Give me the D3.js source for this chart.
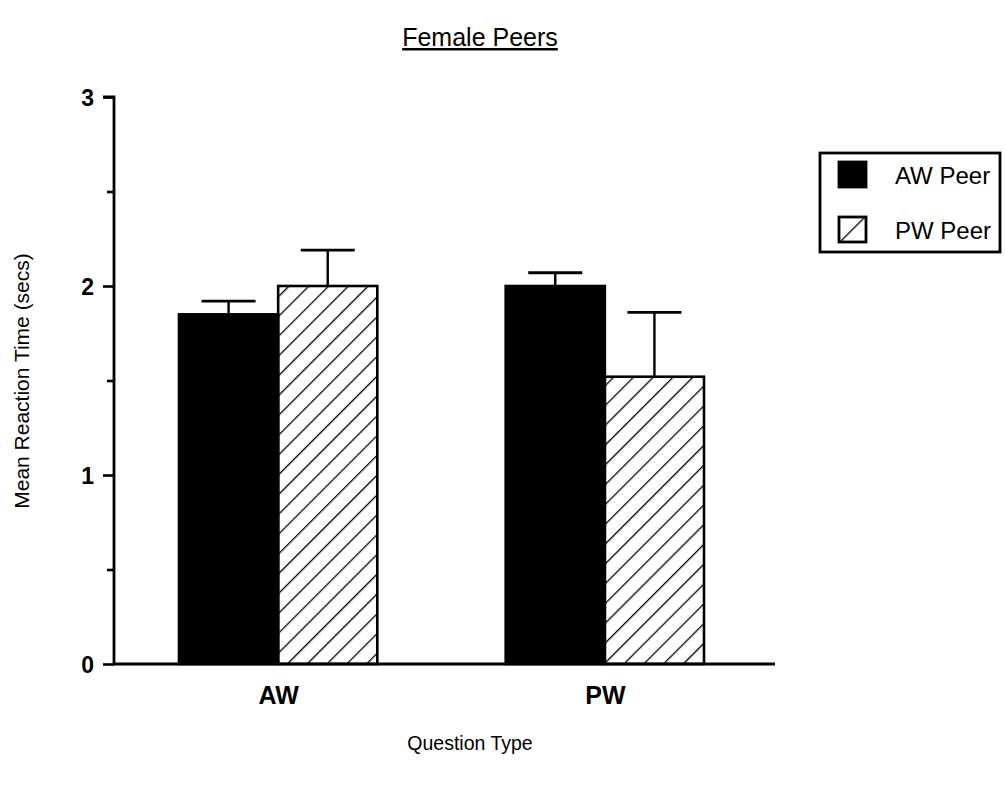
<!DOCTYPE html>
<html><head><meta charset="utf-8">
<script src="https://cdn.jsdelivr.net/npm/d3@7"></script>
<style>body{margin:0;background:#fff}svg{display:block}text{font-family:"Liberation Sans",Arial,sans-serif;fill:#000}</style>
</head><body>
<svg id="c" width="1005" height="787"></svg>
<script>
const categories = ["AW", "PW"];
const series = ["AW Peer", "PW Peer"];
const meanAWPeer = [1.85, 2.0];
const meanPWPeer = [2.0, 1.52];
const errAWPeer = [0.07, 0.07];
const errPWPeer = [0.19, 0.34];
const yTicks = [0, 1, 2, 3];
const yMinorTicks = [0.5, 1.5, 2.5];

const svg = d3.select("#c");
const defs = svg.append("defs");
const pat = defs.append("pattern").attr("id","hatch").attr("patternUnits","userSpaceOnUse")
  .attr("width",14).attr("height",14).attr("patternTransform","rotate(45)");
pat.append("line").attr("x1",0).attr("y1",-2).attr("x2",0).attr("y2",16).attr("stroke","#000").attr("stroke-width",2.6);
const pat2 = defs.append("pattern").attr("id","hatchL").attr("patternUnits","userSpaceOnUse")
  .attr("width",40).attr("height",40).attr("patternTransform","translate(852,229) rotate(45)");
pat2.append("line").attr("x1",0).attr("y1",0).attr("x2",0).attr("y2",40).attr("stroke","#000").attr("stroke-width",2.6);

const x0 = 114, x1 = 775, yTop = 97, yBot = 664;
const y = d3.scaleLinear().domain([0,3]).range([yBot, yTop]);
const xg = d3.scaleBand().domain(categories).range([179, 704]).paddingInner(0.393).paddingOuter(0);
const xs = d3.scaleBand().domain(series).range([0, xg.bandwidth()]);

const data = [];
categories.forEach((c,i)=>{
  data.push({c, s:series[0], v:meanAWPeer[i], e:errAWPeer[i]});
  data.push({c, s:series[1], v:meanPWPeer[i], e:errPWPeer[i]});
});

const g = svg.append("g");
data.forEach(d=>{
  const cx = xg(d.c) + xs(d.s) + xs.bandwidth()/2;
  g.append("line").attr("x1",cx).attr("x2",cx).attr("y1",y(d.v)).attr("y2",y(d.v+d.e)).attr("stroke","#000").attr("stroke-width",2.4);
  g.append("line").attr("x1",cx-27).attr("x2",cx+27).attr("y1",y(d.v+d.e)).attr("y2",y(d.v+d.e)).attr("stroke","#000").attr("stroke-width",2.8);
});
g.selectAll("rect.bar").data(data).enter().append("rect")
  .attr("x",d=>xg(d.c)+xs(d.s)).attr("width",xs.bandwidth())
  .attr("y",d=>y(d.v)).attr("height",d=>y(0)-y(d.v))
  .attr("fill",d=>d.s===series[0]?"#000":"url(#hatch)")
  .attr("stroke","#000").attr("stroke-width",2.6);

const yAxis = d3.axisLeft(y).tickValues(yTicks).tickSize(11).tickPadding(9).tickFormat(d3.format("d"));
const ya = svg.append("g").attr("transform",`translate(${x0},0)`).call(yAxis);
ya.select(".domain").attr("stroke-width",2.8).attr("d",`M-11,${yTop}H0V${yBot}`);
ya.selectAll(".tick line").attr("stroke-width",2.6);
ya.selectAll(".tick text").style("font-size","23px").style("font-weight","bold").attr("dy","0.36em");
const ym = svg.append("g").attr("transform",`translate(${x0},0)`).call(d3.axisLeft(y).tickValues(yMinorTicks).tickSize(7).tickFormat(""));
ym.select(".domain").remove();
ym.selectAll(".tick line").attr("stroke-width",2.6);

const xa = svg.append("g").attr("transform",`translate(0,${yBot})`)
  .call(d3.axisBottom(d3.scalePoint().domain(categories).range([xg("AW")+xg.bandwidth()/2, xg("PW")+xg.bandwidth()/2])).tickSize(0).tickPadding(22));
xa.select(".domain").remove();
xa.selectAll(".tick text").style("font-size","25px").style("font-weight","bold");
svg.append("line").attr("x1",x0-1).attr("x2",x1).attr("y1",yBot).attr("y2",yBot).attr("stroke","#000").attr("stroke-width",2.8);

svg.append("text").attr("x",480).attr("y",46).attr("text-anchor","middle").style("font-size","25px").style("text-decoration","underline").text("Female Peers");
svg.append("text").attr("transform","translate(29,381) rotate(-90)").attr("text-anchor","middle").style("font-size","21px").text("Mean Reaction Time (secs)");
svg.append("text").attr("x",470).attr("y",750).attr("text-anchor","middle").style("font-size","19.5px").text("Question Type");

const lg = svg.append("g");
lg.append("rect").attr("x",820).attr("y",153).attr("width",180).attr("height",99).attr("fill","none").attr("stroke","#000").attr("stroke-width",2.8);
const ly = d3.scalePoint().domain(series).range([175, 230]);
series.forEach((s,i)=>{
  lg.append("rect").attr("x",839).attr("y",ly(s)-13).attr("width",27).attr("height",25)
    .attr("fill",i===0?"#000":"url(#hatchL)").attr("stroke","#000").attr("stroke-width",2.8);
  lg.append("text").attr("x",895).attr("y",ly(s)+9).style("font-size","24px").text(s);
});
</script>
</body></html>
